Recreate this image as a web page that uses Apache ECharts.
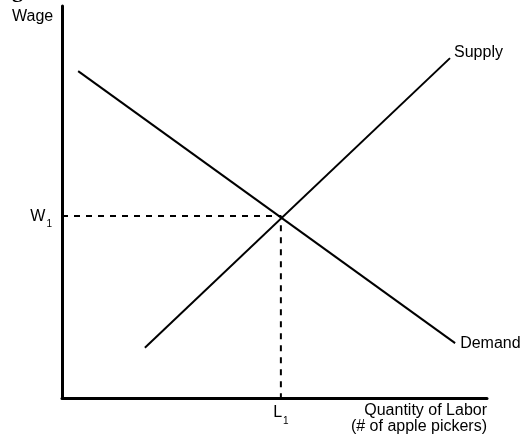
<!DOCTYPE html>
<html>
<head>
<meta charset="utf-8" />
<title>Labor market</title>
<script src="https://cdn.jsdelivr.net/npm/echarts@6/dist/echarts.min.js"></script>
</head>
<body style="margin:0;background:#fff;">
<div id="main" style="width:526px;height:444px;"></div>
<script type="text/javascript">
// supply & demand curve endpoints (x = quantity, y = wage, 0..100 scale)
var supplyLine = [[19.5, 12.8], [91.3, 86.7]];
var demandLine = [[3.8, 83.4], [92.5, 14.0]];
// equilibrium point
var equilibrium = [51.5, 46.4];
var curveNames = ['Supply', 'Demand'];
var tickW = 'W';
var tickL = 'L';

var font = '"Liberation Sans", Arial, Helvetica, sans-serif';
var myChart = echarts.init(document.getElementById('main'));

var subRich = {
	m: { fontSize: 16, fontFamily: font, color: '#000' },
	s: { fontSize: 10, fontFamily: font, color: '#000', verticalAlign: 'bottom', padding: [0, 0, -5, 1] }
};

var option = {
	animation: false,
	backgroundColor: '#fff',
	grid: { left: 62, top: 6, right: 39, bottom: 46 },
	xAxis: {
		type: 'value', min: 0, max: 100,
		axisLine: { show: true, lineStyle: { color: '#000', width: 3 } },
		axisTick: { show: false }, axisLabel: { show: false }, splitLine: { show: false }
	},
	yAxis: {
		type: 'value', min: 0, max: 100,
		axisLine: { show: true, lineStyle: { color: '#000', width: 3 } },
		axisTick: { show: false }, axisLabel: { show: false }, splitLine: { show: false }
	},
	graphic: [
		{ type: 'text', left: 12, top: 9, style: { text: 'Wage', font: '16px ' + font, fill: '#000' } },
		{ type: 'text', x: 12, y: -9, style: { text: 'g', font: 'bold 22px "Liberation Serif", serif', fill: '#000', verticalAlign: 'middle' } },
		{ type: 'text', x: 487, y: 403, style: { text: 'Quantity of Labor\n(# of apple pickers)', font: '16px ' + font, fill: '#000', align: 'right', lineHeight: 16 } }
	],
	series: [
		{
			type: 'line', data: [[0, equilibrium[1]], equilibrium, [equilibrium[0], 0]],
			symbol: 'none', z: 1,
			lineStyle: { color: '#000', width: 2, type: [6, 6] }
		},
		{
			name: curveNames[0], type: 'line', data: supplyLine, symbol: 'none',
			lineStyle: { color: '#000', width: 2 },
			endLabel: { show: true, formatter: curveNames[0], fontFamily: font, fontSize: 16, color: '#000', distance: 4, offset: [0, -6] }
		},
		{
			name: curveNames[1], type: 'line', data: demandLine, symbol: 'none',
			lineStyle: { color: '#000', width: 2 },
			endLabel: { show: true, formatter: curveNames[1], fontFamily: font, fontSize: 16, color: '#000', distance: 5 }
		},
		{
			type: 'scatter', symbolSize: 0, itemStyle: { color: '#000', opacity: 1 },
			label: { color: '#000', opacity: 1 },
			data: [
				{ value: [0, equilibrium[1]], label: { show: true, position: 'left', distance: 10, color: '#000', formatter: '{m|' + tickW + '}{s|1}', rich: subRich } },
				{ value: [equilibrium[0], 0], label: { show: true, position: 'bottom', distance: 7, color: '#000', formatter: '{m|' + tickL + '}{s|1}', rich: subRich } }
			]
		}
	]
};
myChart.setOption(option);
</script>
</body>
</html>
